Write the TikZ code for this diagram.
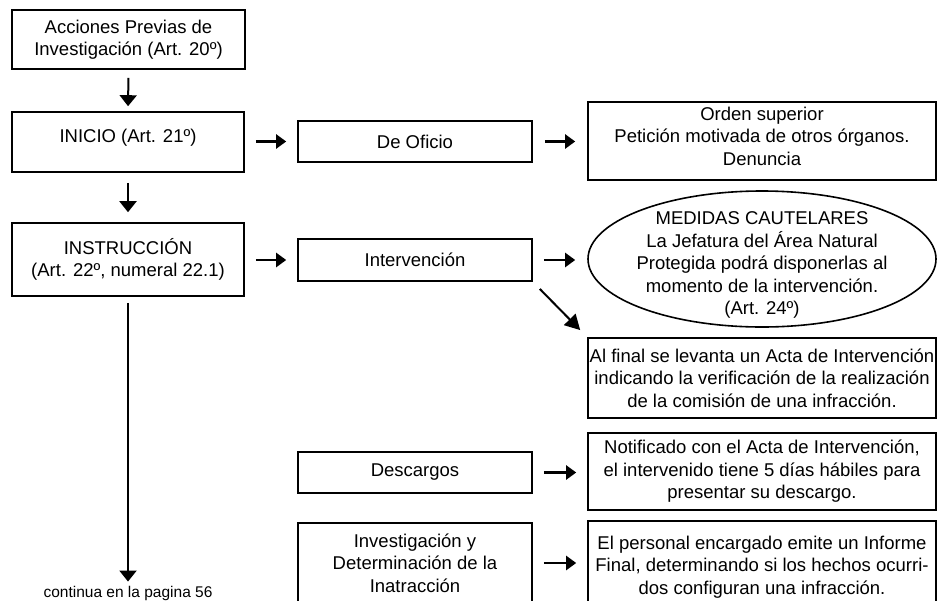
\documentclass[tikz,border=0pt]{standalone}
\usepackage{fontspec}
\setmainfont{Liberation Sans}
\usetikzlibrary{arrows.meta,shapes.geometric}
\begin{document}
\begin{tikzpicture}[x=1pt,y=-1pt,
  box/.style={draw, line width=1.6pt, inner sep=0pt, align=center,
    font=\fontsize{18.5}{22.5}\selectfont},
  txt/.style={inner sep=0pt, align=center, font=\fontsize{18.5}{22.5}\selectfont},
  varr/.style={line width=2pt, -{Triangle[length=11pt,width=17pt]}},
  harr/.style={line width=2.2pt, -{Triangle[length=10pt,width=14pt]}},
  darr/.style={line width=2pt, -{Triangle[length=15pt,width=16pt]}}]
\useasboundingbox (0,0) rectangle (937,600);
% left column
\node[box, minimum width=233pt, minimum height=59pt] (A) at (128.5,39.5)
  {Acciones Previas de\\Investigación (Art. 20º)};
\node[box, minimum width=232pt, minimum height=60pt, text depth=13pt] (B) at (128,142)
  {INICIO (Art. 21º)};
\node[box, minimum width=232pt, minimum height=73pt] (C) at (128,259.5)
  {INSTRUCCIÓN\\(Art. 22º, numeral 22.1)};
\node[inner sep=0pt, font=\fontsize{15.5}{18}\selectfont, anchor=base] (cont) at (128,597)
  {continua en la pagina 56};
% middle column
\node[box, minimum width=234pt, minimum height=41pt] (D) at (415,141.5) {De Oficio};
\node[box, minimum width=234pt, minimum height=42pt] (E) at (415,260) {Intervención};
\node[box, minimum width=234pt, minimum height=41pt] (F) at (415,472.5) {Descargos};
\node[box, minimum width=234pt, minimum height=80pt] (G) at (415,563)
  {Investigación y\\Determinación de la\\Inatracción};
% right column
\node[box, minimum width=348pt, minimum height=78pt, text depth=10pt] (H) at (762,141)
  {Orden superior\\Petición motivada de otros órganos.\\Denuncia};
\node[draw, ellipse, line width=1.6pt, minimum width=348pt, minimum height=136pt, inner sep=0pt] (I) at (762,259) {};
\node[txt] (It) at (762,265)
  {MEDIDAS CAUTELARES\\La Jefatura del Área Natural\\Protegida podrá disponerlas al\\momento de la intervención.\\(Art. 24º)};
\node[box, minimum width=348pt, minimum height=80pt] (J) at (762,378)
  {Al final se levanta un Acta de Intervención\\indicando la verificación de la realización\\de la comisión de una infracción.};
\node[box, minimum width=348pt, minimum height=77pt] (K) at (762,471.5)
  {Notificado con el Acta de Intervención,\\el intervenido tiene 5 días hábiles para\\presentar su descargo.};
\node[box, minimum width=348pt, minimum height=92pt] (L) at (762,567)
  {El personal encargado emite un Informe\\Final, determinando si los hechos ocurri-\\dos configuran una infracción.};
% connectors
\draw[varr, shorten <=8pt, shorten >=5pt] (A.south) -- (B.north);
\draw[varr, shorten <=10pt, shorten >=10pt] (B.south) -- (C.north);
\draw[varr, shorten <=6pt, shorten >=4pt] (C.south) -- (cont.north);
\draw[harr, shorten <=11pt, shorten >=11pt] (B.east |- D.west) -- (D.west);
\draw[harr, shorten <=11pt, shorten >=11pt] (C.east |- E.west) -- (E.west);
\draw[harr, shorten <=12pt, shorten >=12pt] (D.east) -- (H.west |- D.east);
\draw[harr, shorten <=11pt, shorten >=12pt] (E.east) -- (I.west |- E.east);
\draw[harr, shorten <=11pt, shorten >=11pt] (F.east) -- (K.west |- F.east);
\draw[harr, shorten <=11pt, shorten >=11pt] (G.east) -- (L.west |- G.east);
\draw[darr, shorten <=10pt, shorten >=10pt] (E.south east) -- (J.north west);
\end{tikzpicture}
\end{document}
